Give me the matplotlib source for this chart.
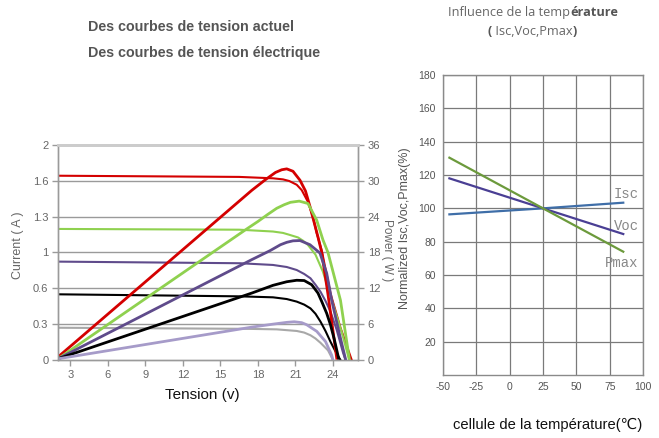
import matplotlib.pyplot as plt


# I-V and P-V curves, one pair per irradiance level
VOLT_TICKS = [3, 6, 9, 12, 15, 18, 21, 24]
CURRENT_TICKS = [0, 1 / 3, 2 / 3, 1, 4 / 3, 5 / 3, 2]
CURRENT_LABELS = ["0", "0.3", "0.6", "1", "1.3", "1.6", "2"]
POWER_TICKS = [0, 6, 12, 18, 24, 30, 36]

iv_red_v = [2, 10, 16.5, 19.2, 20.0, 20.5, 21.1, 21.5, 22.0, 22.4, 22.7, 23.1, 23.8, 24.6, 25.5]
iv_red_i = [1.714, 1.708, 1.703, 1.69, 1.68, 1.665, 1.63, 1.58, 1.47, 1.33, 1.18, 1.02, 0.62, 0.30, 0.0]
pv_red_v = [2, 17.5, 18.6, 19.4, 19.9, 20.3, 20.8, 21.36, 21.8, 22.16, 22.8, 23.1, 23.6, 24.3]
pv_red_p = [0.5, 28.4, 30.2, 31.4, 31.85, 32.0, 31.6, 30.1, 28.3, 25.7, 20.6, 18.0, 11.0, 0.3]

iv_green_v = [2, 16.5, 19.2, 20.0, 20.5, 21.2, 21.6, 22.0, 22.6, 23.2, 24.0, 24.7, 25.3]
iv_green_i = [1.219, 1.212, 1.195, 1.182, 1.165, 1.14, 1.11, 1.07, 0.98, 0.82, 0.52, 0.26, 0.0]
pv_green_v = [2, 17.0, 18.0, 18.8, 19.5, 20.1, 20.6, 21.3, 22.0, 22.7, 23.2, 23.6, 24.6, 25.3]
pv_green_p = [0.2, 21.8, 23.2, 24.4, 25.4, 26.0, 26.4, 26.6, 26.2, 23.4, 20.1, 18.0, 10.0, 0.3]

iv_purple_v = [2, 16.56, 19.2, 20.3, 21.1, 21.7, 22.2, 22.6, 23.0, 23.4, 23.8, 24.3, 24.8, 25.0]
iv_purple_i = [0.915, 0.90, 0.884, 0.865, 0.837, 0.80, 0.76, 0.70, 0.635, 0.55, 0.45, 0.28, 0.07, 0.0]
pv_purple_v = [2, 17.5, 18.96, 19.8, 20.3, 20.8, 21.36, 22.16, 22.96, 23.5, 23.9, 24.5, 25.0]
pv_purple_p = [0.2, 16.8, 18.3, 19.3, 19.7, 19.95, 20.0, 19.3, 17.9, 14.5, 10.0, 4.5, 0.2]

iv_black_v = [2, 16.56, 19.2, 20.3, 21.1, 21.7, 22.2, 22.6, 23.0, 23.4, 23.8, 24.2, 24.6]
iv_black_i = [0.611, 0.592, 0.583, 0.567, 0.543, 0.515, 0.48, 0.43, 0.357, 0.27, 0.17, 0.08, 0.0]
pv_black_v = [2, 17.5, 19.2, 20.3, 21.1, 21.7, 22.3, 22.8, 23.1, 23.5, 23.8, 24.1, 24.45]
pv_black_p = [0.2, 11.2, 12.5, 13.1, 13.35, 13.3, 12.6, 11.2, 9.8, 7.8, 5.9, 3.5, 0.3]

iv_grey_v = [2, 17, 19.5, 21.1, 21.7, 22.2, 22.6, 23.0, 23.6, 24.0]
iv_grey_i = [0.30, 0.29, 0.285, 0.27, 0.255, 0.23, 0.2, 0.16, 0.09, 0.0]
pv_lilac_v = [2, 17.5, 19.2, 20.3, 20.9, 21.5, 21.9, 22.7, 23.4, 23.9, 24.0]
pv_lilac_p = [0.2, 5.5, 6.0, 6.3, 6.4, 6.25, 5.9, 4.8, 3.1, 0.8, 0.0]

# temperature coefficients, normalised to 25 degC
temp_c = [-45, 25, 85]
isc_pct = [96.4, 100, 103.4]
voc_pct = [118, 100, 84.6]
pmax_pct = [130.4, 100, 74]
TEMP_TICKS = [-50, -25, 0, 25, 50, 75, 100]
PCT_TICKS = [20, 40, 60, 80, 100, 120, 140, 160, 180]

plt.rcParams["font.family"] = ["Liberation Sans", "DejaVu Sans"]
plt.rcParams["axes.unicode_minus"] = False

fig = plt.figure(figsize=(6.59, 4.38), dpi=100)

# ---- left: current / power vs voltage ----
ax = fig.add_axes([0.0880, 0.1781, 0.4552, 0.4909])
ax2 = ax.twinx()

grid_c = "#9a9a9a"
for y in CURRENT_TICKS[1:-1]:
    ax.axhline(y, color=grid_c, lw=1.0, zorder=0)

ax.plot(iv_red_v, iv_red_i, color="#d40000", lw=1.5)
ax.plot(iv_green_v, iv_green_i, color="#8fd14f", lw=1.5)
ax.plot(iv_purple_v, iv_purple_i, color="#5f4b8b", lw=1.5)
ax.plot(iv_black_v, iv_black_i, color="#000000", lw=1.5)
ax.plot(iv_grey_v, iv_grey_i, color="#a8a8a8", lw=1.5)

ax2.plot(pv_red_v, pv_red_p, color="#d40000", lw=2.0)
ax2.plot(pv_green_v, pv_green_p, color="#8fd14f", lw=2.0)
ax2.plot(pv_purple_v, pv_purple_p, color="#5f4b8b", lw=2.0)
ax2.plot(pv_black_v, pv_black_p, color="#000000", lw=2.0)
ax2.plot(pv_lilac_v, pv_lilac_p, color="#a69bc9", lw=2.0)

ax.set_xlim(2, 26)
ax.set_ylim(0, 2)
ax2.set_ylim(0, 36)
ax.set_xticks(VOLT_TICKS)
ax.set_yticks(CURRENT_TICKS)
ax.set_yticklabels(CURRENT_LABELS)
ax2.set_yticks(POWER_TICKS)

for a in (ax, ax2):
    for side in ("left", "right", "bottom"):
        a.spines[side].set_color(grid_c)
        a.spines[side].set_linewidth(1.0)
    a.spines["top"].set_color("#cccccc")
    a.spines["top"].set_linewidth(2.0)
    a.tick_params(colors=grid_c, labelcolor="#666666", labelsize=8,
                  length=4, width=1.0, pad=3)

fig.text(0.027, 0.44, "Current ( A )", rotation=90, ha="center", va="center",
         color="#666666", fontsize=9)
fig.text(0.587, 0.43, "Power ( W )", rotation=270, ha="center", va="center",
         color="#666666", fontsize=8.5)
fig.text(0.307, 0.098, "Tension (v)", ha="center", va="center",
         color="#111111", fontsize=11)

fig.text(0.1335, 0.938, "Des courbes de tension actuel", ha="left", va="center",
         color="#555555", fontsize=10.3, fontweight="bold")
fig.text(0.1335, 0.879, "Des courbes de tension électrique", ha="left", va="center",
         color="#555555", fontsize=10.3, fontweight="bold")

# ---- right: temperature influence ----
bx = fig.add_axes([0.6718, 0.1438, 0.3044, 0.6849])
bx.plot(temp_c, isc_pct, color="#3f6ea8", lw=1.6)
bx.plot(temp_c, voc_pct, color="#4a3f94", lw=1.6)
bx.plot(temp_c, pmax_pct, color="#6c9a3c", lw=1.6)

bx.set_xlim(-50, 100)
bx.set_ylim(0, 180)
bx.set_xticks(TEMP_TICKS)
bx.set_yticks(PCT_TICKS)
bx.grid(True, color="#7a7a7a", lw=0.9)
bx.set_axisbelow(True)
for side in bx.spines:
    bx.spines[side].set_color("#8a8a8a")
    bx.spines[side].set_linewidth(1.0)
bx.tick_params(length=0, labelsize=7.5, labelcolor="#555555", pad=5)

for name, y in (("Isc", 108.6), ("Voc", 89.4), ("Pmax", 67.5)):
    bx.text(96.5, y, name, ha="right", va="center", color="#888888",
            fontsize=10, family="Liberation Mono")

fig.text(0.615, 0.48, "Normalized Isc,Voc,Pmax(%)", rotation=90, ha="center",
         va="center", color="#555555", fontsize=9)
fig.text(0.687, 0.030, "cellule de la température(℃)", ha="left", va="center",
         color="#111111", fontsize=10.6, family=["Liberation Sans", "DejaVu Sans"])

# title with bold fragments
TITLE_FONT = "Open Sans"
t1 = fig.text(0.680, 0.972, "Influence de la temp", ha="left", va="center",
              color="#666666", fontsize=9.2, family=TITLE_FONT)
fig.add_artist(plt.Annotation("érature", xy=(1, 0.5), xycoords=t1, ha="left",
                              va="center", color="#555555", fontsize=9.2,
                              family=TITLE_FONT, fontweight="bold"))
t2 = fig.text(0.7405, 0.927, "(", ha="left", va="center", color="#555555",
              fontsize=9.2, family=TITLE_FONT, fontweight="bold")
t3 = plt.Annotation(" Isc,Voc,Pmax", xy=(1, 0.5), xycoords=t2, ha="left",
                    va="center", color="#666666", fontsize=9.2, family=TITLE_FONT)
fig.add_artist(t3)
fig.add_artist(plt.Annotation(")", xy=(1, 0.5), xycoords=t3, ha="left",
                              va="center", color="#555555", fontsize=9.2,
                              family=TITLE_FONT, fontweight="bold"))

fig.savefig("out.png", dpi=100)
